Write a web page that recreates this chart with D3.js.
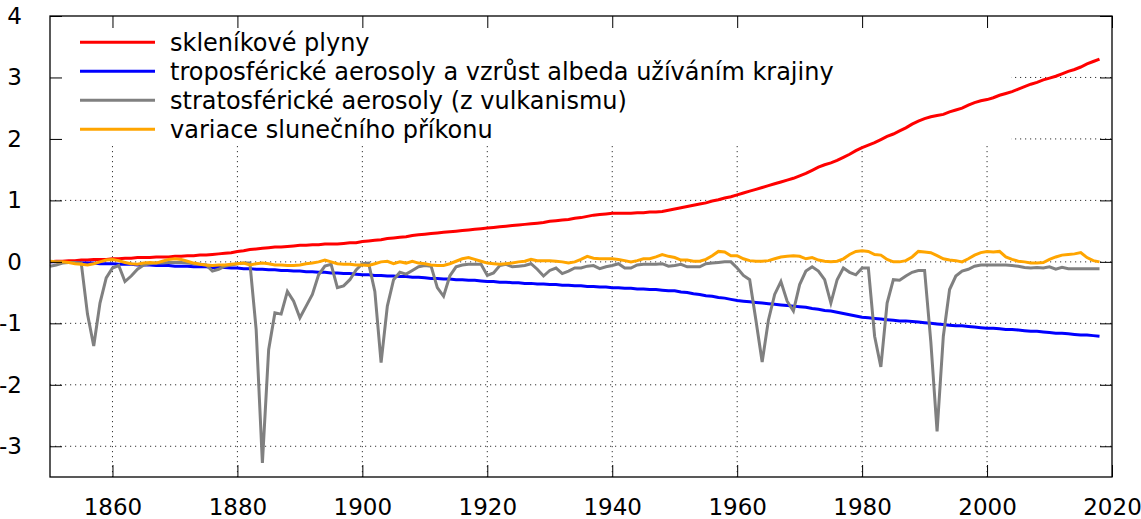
<!DOCTYPE html>
<html>
<head>
<meta charset="utf-8">
<script src="https://cdn.jsdelivr.net/npm/d3@7"></script>
<style>
  body { margin: 0; background: #fff; }
  text { font-family: "DejaVu Sans", sans-serif; }
</style>
</head>
<body>
<div id="chart"></div>
<script>
// Data: years 1850-2018, forcings in W/m2
var startYear = 1850;

var ghg = [
  0.00, 0.01, 0.01, 0.02, 0.02, 0.03, 0.03, 0.04, 0.04, 0.04,
  0.05, 0.05, 0.06, 0.06, 0.07, 0.07, 0.07, 0.08, 0.08, 0.08,
  0.09, 0.09, 0.10, 0.10, 0.11, 0.11, 0.12, 0.13, 0.14, 0.15,
  0.17, 0.18, 0.20, 0.21, 0.22, 0.23, 0.24, 0.24, 0.25, 0.26,
  0.27, 0.27, 0.28, 0.28, 0.29, 0.29, 0.29, 0.30, 0.31, 0.31,
  0.33, 0.34, 0.35, 0.36, 0.38, 0.39, 0.40, 0.41, 0.43, 0.44,
  0.45, 0.46, 0.47, 0.48, 0.49, 0.50, 0.51, 0.52, 0.53, 0.54,
  0.55, 0.56, 0.57, 0.58, 0.59, 0.60, 0.61, 0.62, 0.63, 0.64,
  0.66, 0.67, 0.68, 0.69, 0.71, 0.72, 0.74, 0.76, 0.77, 0.78,
  0.79, 0.79, 0.79, 0.79, 0.80, 0.80, 0.81, 0.81, 0.82, 0.84,
  0.86, 0.88, 0.90, 0.92, 0.94, 0.96, 0.99, 1.01, 1.04, 1.06,
  1.09, 1.12, 1.15, 1.18, 1.21, 1.24, 1.27, 1.30, 1.33, 1.36,
  1.40, 1.44, 1.49, 1.54, 1.58, 1.61, 1.65, 1.70, 1.75, 1.81,
  1.86, 1.90, 1.94, 1.99, 2.04, 2.08, 2.13, 2.18, 2.24, 2.29,
  2.33, 2.36, 2.38, 2.40, 2.44, 2.47, 2.50, 2.55, 2.59, 2.62,
  2.64, 2.67, 2.71, 2.74, 2.77, 2.81, 2.85, 2.89, 2.92, 2.96,
  2.99, 3.02, 3.06, 3.10, 3.13, 3.17, 3.22, 3.26, 3.30
];

var tropAerosol = [
  0.00, -0.00, -0.01, -0.01, -0.01, -0.02, -0.02, -0.02, -0.03, -0.03,
  -0.03, -0.04, -0.04, -0.04, -0.05, -0.05, -0.05, -0.06, -0.06, -0.06,
  -0.07, -0.07, -0.07, -0.08, -0.08, -0.08, -0.09, -0.09, -0.09, -0.10,
  -0.10, -0.11, -0.11, -0.12, -0.12, -0.13, -0.13, -0.14, -0.14, -0.15,
  -0.15, -0.16, -0.16, -0.17, -0.17, -0.18, -0.18, -0.19, -0.19, -0.20,
  -0.21, -0.21, -0.22, -0.22, -0.23, -0.23, -0.24, -0.24, -0.25, -0.25,
  -0.26, -0.27, -0.27, -0.28, -0.28, -0.29, -0.29, -0.30, -0.30, -0.31,
  -0.32, -0.32, -0.33, -0.33, -0.34, -0.34, -0.35, -0.35, -0.36, -0.36,
  -0.37, -0.37, -0.38, -0.38, -0.39, -0.39, -0.40, -0.40, -0.41, -0.41,
  -0.42, -0.42, -0.43, -0.43, -0.44, -0.44, -0.45, -0.45, -0.46, -0.47,
  -0.47, -0.49, -0.50, -0.52, -0.53, -0.55, -0.56, -0.58, -0.59, -0.61,
  -0.63, -0.64, -0.65, -0.66, -0.67, -0.68, -0.69, -0.70, -0.71, -0.72,
  -0.73, -0.74, -0.76, -0.77, -0.79, -0.80, -0.82, -0.84, -0.86, -0.88,
  -0.90, -0.91, -0.92, -0.93, -0.94, -0.95, -0.96, -0.96, -0.97, -0.98,
  -0.99, -1.00, -1.01, -1.02, -1.03, -1.04, -1.04, -1.05, -1.06, -1.07,
  -1.08, -1.08, -1.09, -1.10, -1.10, -1.11, -1.12, -1.13, -1.13, -1.14,
  -1.15, -1.16, -1.16, -1.17, -1.18, -1.19, -1.19, -1.20, -1.21
];

var stratAerosol = [
  -0.07, -0.05, -0.02, -0.01, -0.01, -0.02, -0.85, -1.37, -0.67, -0.26,
  -0.10, -0.06, -0.32, -0.23, -0.12, -0.05, -0.03, -0.02, -0.02, -0.01,
  -0.01, -0.01, -0.02, -0.03, -0.04, -0.05, -0.15, -0.12, -0.07, -0.05,
  -0.03, -0.02, -0.02, -1.10, -3.27, -1.43, -0.83, -0.85, -0.48, -0.64,
  -0.91, -0.72, -0.53, -0.21, -0.07, -0.04, -0.42, -0.39, -0.29, -0.13,
  -0.03, -0.02, -0.48, -1.64, -0.72, -0.29, -0.17, -0.20, -0.14, -0.08,
  -0.06, -0.07, -0.42, -0.56, -0.23, -0.08, -0.05, -0.04, -0.04, -0.04,
  -0.22, -0.18, -0.06, -0.04, -0.08, -0.07, -0.06, -0.03, -0.12, -0.23,
  -0.14, -0.10, -0.19, -0.15, -0.10, -0.10, -0.07, -0.06, -0.11, -0.08,
  -0.06, -0.03, -0.10, -0.10, -0.05, -0.04, -0.04, -0.04, -0.03, -0.07,
  -0.06, -0.04, -0.08, -0.08, -0.08, -0.03, -0.02, -0.01, 0.00, 0.00,
  -0.10, -0.22, -0.29, -0.95, -1.63, -0.95, -0.53, -0.32, -0.64, -0.80,
  -0.37, -0.15, -0.08, -0.15, -0.29, -0.67, -0.29, -0.10, -0.17, -0.21,
  -0.10, -0.10, -1.21, -1.71, -0.67, -0.29, -0.30, -0.23, -0.17, -0.14,
  -0.14, -1.30, -2.76, -1.21, -0.45, -0.23, -0.15, -0.12, -0.07, -0.05,
  -0.05, -0.05, -0.05, -0.05, -0.06, -0.07, -0.09, -0.10, -0.09, -0.10,
  -0.08, -0.12, -0.09, -0.11, -0.11, -0.11, -0.11, -0.11, -0.11
];

var solar = [
  0.01, 0.00, 0.00, -0.01, -0.03, -0.04, -0.05, -0.03, 0.00, 0.03,
  0.04, 0.02, -0.01, -0.03, -0.04, -0.02, -0.01, -0.02, 0.01, 0.04,
  0.05, 0.04, 0.01, -0.02, -0.04, -0.05, -0.06, -0.05, -0.05, -0.04,
  -0.03, -0.02, -0.05, -0.03, -0.02, -0.03, -0.05, -0.05, -0.06, -0.06,
  -0.05, -0.03, -0.02, 0.00, 0.03, 0.00, -0.03, -0.04, -0.04, -0.05,
  -0.05, -0.06, -0.03, 0.00, 0.01, -0.03, 0.00, -0.02, 0.01, -0.02,
  -0.03, -0.05, -0.06, -0.06, -0.03, 0.01, 0.05, 0.07, 0.04, 0.01,
  -0.02, -0.03, -0.04, -0.03, -0.02, 0.00, 0.01, 0.04, 0.02, 0.02,
  0.02, 0.01, 0.00, -0.02, 0.00, 0.04, 0.09, 0.06, 0.05, 0.05,
  0.05, 0.04, 0.02, 0.00, 0.02, 0.05, 0.05, 0.08, 0.12, 0.09,
  0.07, 0.03, 0.03, 0.01, 0.01, 0.04, 0.10, 0.17, 0.16, 0.10,
  0.10, 0.05, 0.02, 0.01, 0.01, 0.02, 0.05, 0.08, 0.09, 0.10,
  0.09, 0.05, 0.07, 0.03, 0.01, 0.00, 0.01, 0.05, 0.12, 0.17,
  0.18, 0.17, 0.12, 0.11, 0.04, 0.00, 0.00, 0.02, 0.08, 0.17,
  0.16, 0.15, 0.10, 0.05, 0.03, 0.02, 0.00, 0.05, 0.11, 0.15,
  0.17, 0.16, 0.17, 0.08, 0.04, 0.01, 0.00, -0.02, -0.02, -0.01,
  0.04, 0.08, 0.11, 0.12, 0.13, 0.15, 0.07, 0.02, 0.00
];

var seriesNames = [
  "skleníkové plyny",
  "troposférické aerosoly a vzrůst albeda užíváním krajiny",
  "stratosférické aerosoly (z vulkanismu)",
  "variace slunečního příkonu"
];
var seriesColors = ["#ff0000", "#0000ff", "#808080", "#ffa500"];
var xTicks = [1860, 1880, 1900, 1920, 1940, 1960, 1980, 2000, 2020];
var yTicks = [-3, -2, -1, 0, 1, 2, 3, 4];

var svgWidth = 1141;
var svgHeight = 519;
var margin = { top: 16, right: 29, bottom: 42, left: 50 };
var width = svgWidth - margin.left - margin.right;
var height = svgHeight - margin.top - margin.bottom;

var svg = d3.select("#chart")
  .append("svg")
  .attr("width", svgWidth)
  .attr("height", svgHeight);

var chartGroup = svg.append("g")
  .attr("transform", `translate(${margin.left}, ${margin.top})`);

var x = d3.scaleLinear().domain([1850, 2020]).range([0, width]);
var y = d3.scaleLinear().domain([-3.5, 4]).range([height, 0]);

// grid (dotted)
chartGroup.selectAll(".vgrid")
  .data(xTicks.slice(0, -1))
  .enter()
  .append("line")
  .attr("x1", d => x(d)).attr("x2", d => x(d))
  .attr("y1", 0).attr("y2", height)
  .attr("stroke", "#000")
  .attr("stroke-width", 1)
  .attr("stroke-dasharray", "1.2,3.8")
  .attr("opacity", 0.8);

chartGroup.selectAll(".hgrid")
  .data(yTicks.slice(0, -1))
  .enter()
  .append("line")
  .attr("x1", 0).attr("x2", width)
  .attr("y1", d => y(d)).attr("y2", d => y(d))
  .attr("stroke", "#000")
  .attr("stroke-width", 1)
  .attr("stroke-dasharray", "1.2,3.8")
  .attr("opacity", 0.8);

// legend background (opaque key)
chartGroup.append("rect")
  .attr("x", 0).attr("y", 0)
  .attr("width", 961).attr("height", 130)
  .attr("fill", "#fff");

// lines
var allSeries = [ghg, tropAerosol, stratAerosol, solar];
var line = d3.line()
  .x((d, i) => x(startYear + i))
  .y(d => y(d));

allSeries.forEach(function (values, k) {
  chartGroup.append("path")
    .datum(values)
    .attr("d", line)
    .attr("fill", "none")
    .attr("stroke", seriesColors[k])
    .attr("stroke-width", 3)
    .attr("stroke-linejoin", "miter");
});

// axes: inward ticks on all four sides
var tickLen = 12;
var bottomAxis = d3.axisBottom(x).tickValues(xTicks).tickSize(-tickLen).tickPadding(22).tickFormat(d3.format("d"));
var topAxis = d3.axisTop(x).tickValues(xTicks).tickSize(-tickLen).tickFormat("");
var leftAxis = d3.axisLeft(y).tickValues(yTicks).tickSize(-tickLen).tickPadding(28).tickFormat(d3.format("d"));
var rightAxis = d3.axisRight(y).tickValues(yTicks).tickSize(-tickLen).tickFormat("");

var gb = chartGroup.append("g").attr("transform", `translate(0, ${height})`).call(bottomAxis);
var gt = chartGroup.append("g").call(topAxis);
var gl = chartGroup.append("g").call(leftAxis);
var gr = chartGroup.append("g").attr("transform", `translate(${width}, 0)`).call(rightAxis);

[gb, gt, gl, gr].forEach(function (g) {
  g.select(".domain").remove();
  g.selectAll("line").attr("stroke", "#000").attr("stroke-width", 1);
  g.selectAll("text")
    .attr("font-family", "DejaVu Sans, sans-serif")
    .attr("font-size", "23px")
    .attr("fill", "#000");
});
gl.selectAll("text").text(d => d3.format("d")(d).replace("\u2212", "-"));

// border
chartGroup.append("rect")
  .attr("x", 0).attr("y", 0)
  .attr("width", width).attr("height", height)
  .attr("fill", "none")
  .attr("stroke", "#000")
  .attr("stroke-width", 1.3);

// legend
var legend = chartGroup.selectAll(".legend")
  .data(seriesNames)
  .enter()
  .append("g")
  .attr("transform", (d, i) => `translate(0, ${26.3 + i * 29})`);

legend.append("line")
  .attr("x1", 30).attr("x2", 105)
  .attr("y1", 0).attr("y2", 0)
  .attr("stroke", (d, i) => seriesColors[i])
  .attr("stroke-width", 3);

legend.append("text")
  .attr("x", 120)
  .attr("y", 9)
  .attr("font-size", "24px")
  .attr("fill", "#000")
  .text(d => d);
</script>
</body>
</html>
